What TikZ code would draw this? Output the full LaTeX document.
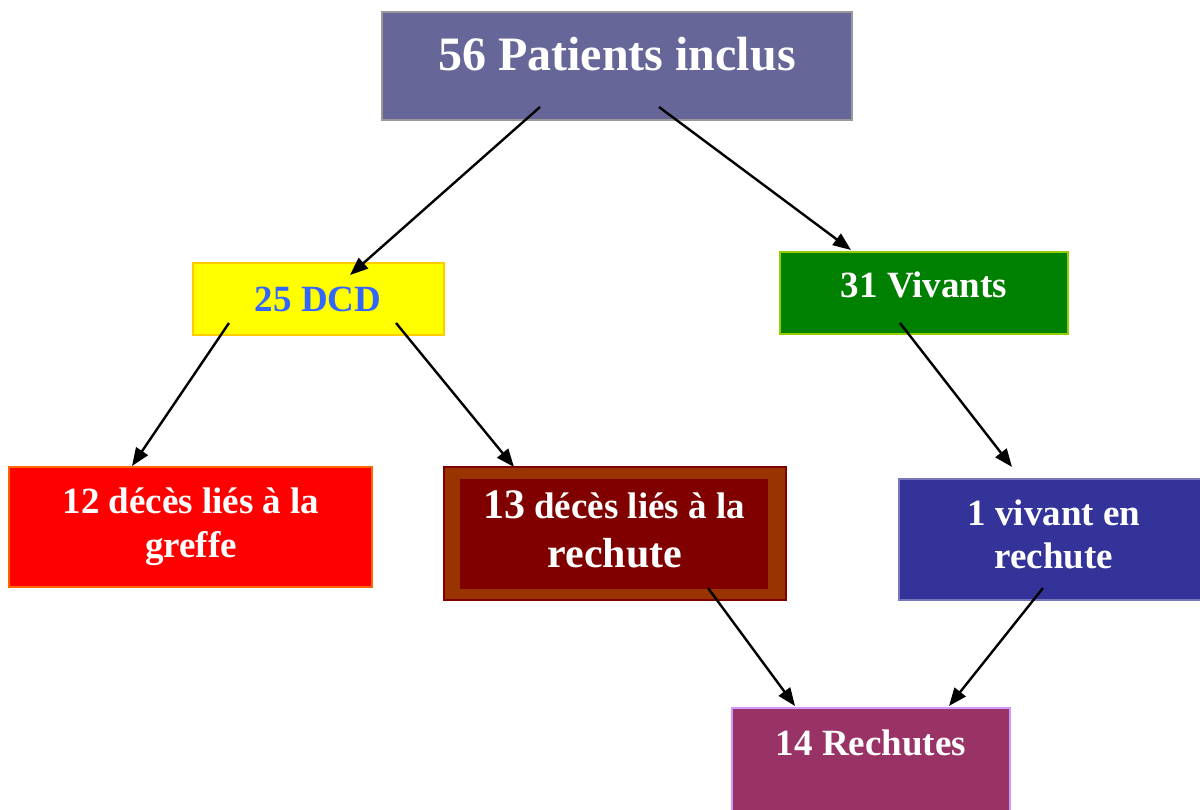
\documentclass[tikz,border=0pt]{standalone}
\usepackage{fontspec}
\setmainfont{Liberation Serif}
\usetikzlibrary{arrows.meta}
\definecolor{topfill}{HTML}{666699}
\definecolor{topline}{HTML}{999999}
\definecolor{dcdfill}{HTML}{FFFF00}
\definecolor{dcdline}{HTML}{FFCC00}
\definecolor{dcdtext}{HTML}{3366FF}
\definecolor{vivfill}{HTML}{008000}
\definecolor{vivline}{HTML}{99CC00}
\definecolor{greffill}{HTML}{FF0000}
\definecolor{grefline}{HTML}{FF6600}
\definecolor{rechout}{HTML}{993300}
\definecolor{rechin}{HTML}{800000}
\definecolor{vrfill}{HTML}{333399}
\definecolor{vrline}{HTML}{7777BB}
\definecolor{rfill}{HTML}{993366}
\definecolor{rline}{HTML}{CC99FF}
\tikzset{
  boxnode/.style={draw, line width=1.8pt, inner sep=0pt, outer sep=0pt},
  txt/.style={text=white, font=\bfseries\fontsize{37}{37}\selectfont, anchor=base, inner sep=0pt},
  conn/.style={line width=2.4pt, -{Triangle[length=18pt,width=14pt]}}
}
\begin{document}
\begin{tikzpicture}[x=1pt,y=-1pt]
\useasboundingbox (0,0) rectangle (1200,810);
% boxes
\node[boxnode, fill=topfill, draw=topline, minimum width=470pt, minimum height=108pt] (top) at (617,66) {};
\node[boxnode, fill=dcdfill, draw=dcdline, minimum width=251pt, minimum height=72pt] (dcd) at (318.5,299) {};
\node[boxnode, fill=vivfill, draw=vivline, minimum width=288pt, minimum height=82pt] (viv) at (924,293) {};
\node[boxnode, fill=greffill, draw=grefline, minimum width=363pt, minimum height=120pt] (gref) at (190.5,527) {};
\node[boxnode, fill=rechout, draw=rechin, minimum width=342pt, minimum height=133pt] (rech) at (615,533.5) {};
\node[inner sep=0pt, outer sep=0pt, fill=rechin, minimum width=308pt, minimum height=110pt] (rechinner) at (614,534) {};
\node[boxnode, fill=vrfill, draw=vrline, minimum width=304pt, minimum height=121pt] (vr) at (1051,539.5) {};
\node[boxnode, fill=rfill, draw=rline, minimum width=278pt, minimum height=110pt] (rr) at (871,763) {};
% texts
\node[txt, font=\bfseries\fontsize{48}{48}\selectfont] (ttop) at (617,71) {56 Patients inclus};
\node[txt, text=dcdtext] (tdcd) at (318,312) {25 DCD};
\node[txt] (tviv) at (924,298) {31 Vivants};
\node[txt] (tgref1) at (191,513) {12 décès liés à la};
\node[txt] (tgref2) at (191,557) {greffe};
\node[txt] (trech1) at (614,518) {{\fontsize{42}{42}\selectfont 13} décès liés à la};
\node[txt, font=\bfseries\fontsize{42}{42}\selectfont] (trech2) at (615,567) {rechute};
\node[txt] (tvr1) at (1054,525) {1 vivant en};
\node[txt] (tvr2) at (1054,568) {rechute};
\node[txt] (trr) at (871,755) {14 Rechutes};
% connector ends
\coordinate (a1s) at (540,107); \coordinate (a1e) at (350,275);
\coordinate (a2s) at (659,107); \coordinate (a2e) at (851,250);
\coordinate (a3s) at (229,323); \coordinate (a3e) at (132,466);
\coordinate (a4s) at (396,323); \coordinate (a4e) at (514,467);
\coordinate (a5s) at (900,323); \coordinate (a5e) at (1012,467);
\coordinate (a6s) at (708,588); \coordinate (a6e) at (795,706);
\coordinate (a7s) at (1043,588); \coordinate (a7e) at (949,706);
\draw[conn] (a1s) -- (a1e);
\draw[conn] (a2s) -- (a2e);
\draw[conn] (a3s) -- (a3e);
\draw[conn] (a4s) -- (a4e);
\draw[conn] (a5s) -- (a5e);
\draw[conn] (a6s) -- (a6e);
\draw[conn] (a7s) -- (a7e);
\end{tikzpicture}
\end{document}
